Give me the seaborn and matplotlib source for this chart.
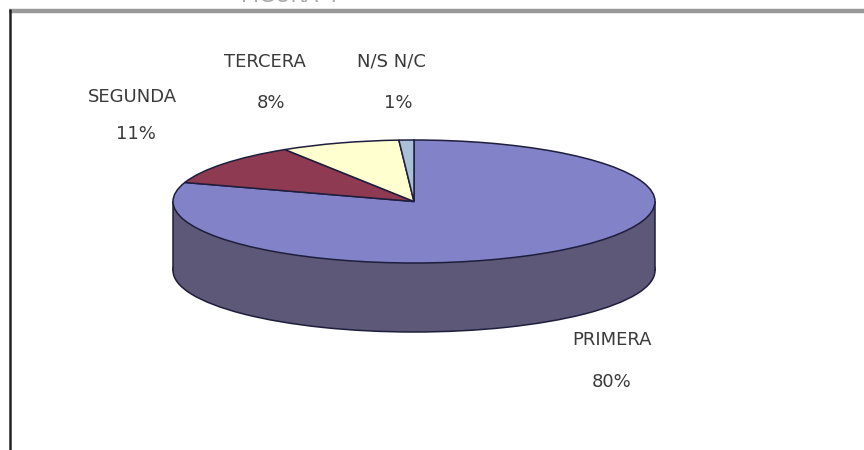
import matplotlib
matplotlib.use("Agg")
import matplotlib.pyplot as plt
import seaborn as sns

# ---- data ----
categories = ["PRIMERA", "SEGUNDA", "TERCERA", "N/S N/C"]
values = [80, 11, 8, 1]
pct_labels = ["80%", "11%", "8%", "1%"]
title_text = "FIGURA 4"

# ---- style ----
sns.set_theme(style="white")
plt.rcParams["font.family"] = ["DejaVu Sans"]

top_colors = ["#8282C8", "#8E3A52", "#FFFFD0", "#A8C0D8"]
side_color = "#5E5878"
edge_color = "#1E1E3C"
text_color = "#3a3a3a"

W, H = 864, 450
fig = plt.figure(figsize=(W / 100, H / 100), dpi=100)
fig.patch.set_facecolor("white")
ax = fig.add_axes([0, 0, 1, 1])

# pie geometry in pixels
cx_px, cy_px = 414, 201.5
a_px, b_px = 241, 61.5
depth_px = 69
k = a_px / b_px  # vertical squash factor


def to_data(x_px, y_px):
    return x_px, (H - y_px) * k


cx, cy = to_data(cx_px, cy_px)
d = depth_px * k

# side of the 3D pie: bottom ellipse + band
ax.pie([1], colors=[side_color], center=(cx, cy - d), radius=a_px,
       wedgeprops=dict(edgecolor=edge_color, linewidth=1.1, zorder=1))
ax.fill_between([cx - a_px, cx + a_px], cy - d, cy, color=side_color,
                linewidth=0, zorder=2)
ax.vlines([cx - a_px, cx + a_px], cy - d, cy, color=edge_color,
          linewidth=1.1, zorder=2.5)

# top face
ax.pie(values, colors=top_colors, startangle=90, counterclock=False,
       center=(cx, cy), radius=a_px,
       wedgeprops=dict(edgecolor=edge_color, linewidth=1.1, zorder=3))

ax.set_aspect("auto")
ax.set_xlim(0, W)
ax.set_ylim(0, H * k)
ax.axis("off")

# labels (name + percentage), pixel positions of label centers
name_pos = [(612, 340), (132, 97), (265, 62), (391, 62)]
pct_pos = [(612, 382), (136, 134), (271, 103), (398, 103)]
for name, pct, (nx, ny), (px, py) in zip(categories, pct_labels, name_pos, pct_pos):
    ax.text(*to_data(nx, ny), name, ha="center", va="center",
            fontsize=13, color=text_color, zorder=5)
    ax.text(*to_data(px, py), pct, ha="center", va="center",
            fontsize=13, color=text_color, zorder=5)

# frame lines (top and left border of the chart area)
ax.plot([9, W], [H * k - 11 * k] * 2, color="#999999", linewidth=3.2,
        solid_capstyle="butt", zorder=6)
ax.plot([9.5, 9.5], [0, H * k - 9 * k], color="#222222", linewidth=1.8,
        solid_capstyle="butt", zorder=6)

# title, cut off at the top edge as in the original
fig.text(290 / W, 1 - 6 / H, title_text, ha="center", va="bottom",
         fontsize=15, color="#aaaaaa")

fig.savefig("out.png", dpi=100, facecolor="white")
